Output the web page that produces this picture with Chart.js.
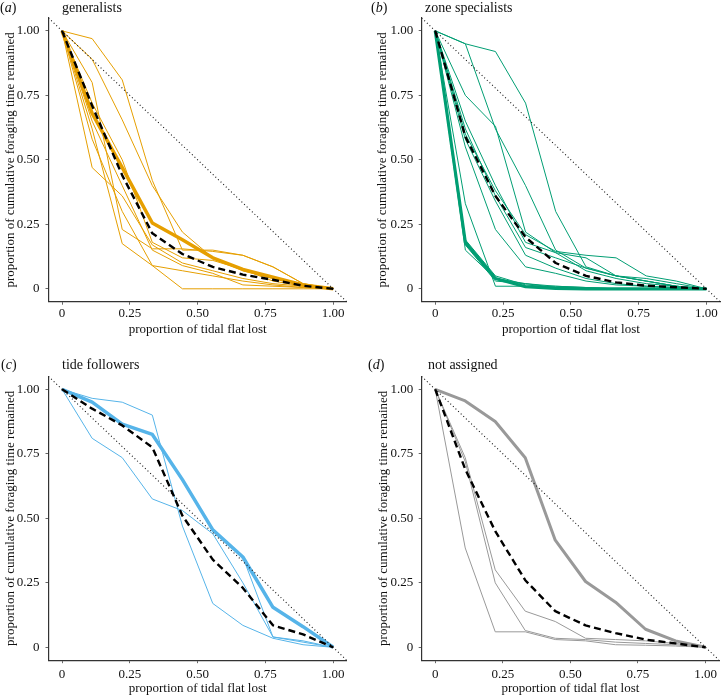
<!DOCTYPE html>
<html>
<head>
<meta charset="utf-8">
<script src="https://cdn.jsdelivr.net/npm/chart.js@4.4.1/dist/chart.umd.min.js"></script>
<style>
body { margin: 0; background: #fff; width: 721px; height: 698px; position: relative; overflow: hidden; font-family: "Liberation Serif", serif; }
canvas { position: absolute; }
.rotulo { position: absolute; font-size: 14px; line-height: 16px; color: #111; white-space: nowrap; }
</style>
</head>
<body>
<canvas id="grafico_a" width="360" height="345" style="left:0;top:0"></canvas>
<canvas id="grafico_b" width="361" height="345" style="left:360px;top:0"></canvas>
<canvas id="grafico_c" width="360" height="353" style="left:0;top:345px"></canvas>
<canvas id="grafico_d" width="361" height="353" style="left:360px;top:345px"></canvas>

<div class="rotulo" style="left:0;top:0">(<i>a</i>)</div>
<div class="rotulo" style="left:62px;top:0">generalists</div>
<div class="rotulo" style="left:371px;top:0">(<i>b</i>)</div>
<div class="rotulo" style="left:425px;top:0">zone specialists</div>
<div class="rotulo" style="left:1px;top:357px">(<i>c</i>)</div>
<div class="rotulo" style="left:62px;top:357px">tide followers</div>
<div class="rotulo" style="left:368px;top:357px">(<i>d</i>)</div>
<div class="rotulo" style="left:428px;top:357px">not assigned</div>

<script>
// proporção de planície perdida (eixo x)
const xs = [0, 0.111, 0.222, 0.333, 0.444, 0.556, 0.667, 0.778, 0.889, 1];
const tickValues = [0, 0.25, 0.5, 0.75, 1];
const tickLabels = ['0', '0.25', '0.50', '0.75', '1.00'];
const diagX = [-0.05, 1.05];
const diagY = [1.05, -0.05];

// (a) generalists
const generalistsMean = [1, 0.71, 0.44, 0.215, 0.135, 0.085, 0.055, 0.035, 0.012, 0];
const generalistsThick = [1, 0.68, 0.47, 0.255, 0.19, 0.12, 0.075, 0.045, 0.015, 0];
const generalistsThin = [
    [1, 0.97, 0.81, 0.42, 0.15, 0.15, 0.13, 0.085, 0.02, 0],
    [1, 0.89, 0.655, 0.40, 0.22, 0.12, 0.07, 0.04, 0.015, 0],
    [1, 0.80, 0.23, 0.155, 0.155, 0.145, 0.13, 0.085, 0.02, 0],
    [1, 0.47, 0.36, 0.17, 0.10, 0.07, 0.04, 0.02, 0.01, 0],
    [1, 0.62, 0.175, 0.09, 0.07, 0.05, 0.03, 0.015, 0.005, 0],
    [1, 0.58, 0.30, 0.09, 0.0, 0.0, 0.0, 0.0, 0.0, 0],
    [1, 0.65, 0.40, 0.15, 0.09, 0.06, 0.015, 0.01, 0.005, 0],
    [1, 0.72, 0.50, 0.18, 0.12, 0.11, 0.075, 0.03, 0.01, 0]
];

// (b) zone specialists
const zoneMean = [1, 0.59, 0.36, 0.20, 0.10, 0.05, 0.025, 0.012, 0.006, 0];
const zoneThick = [1, 0.18, 0.04, 0.008, 0.002, 0, 0, 0, 0, 0];
const zoneThin = [
    [1, 0.95, 0.92, 0.72, 0.30, 0.085, 0.05, 0.04, 0.02, 0],
    [1, 0.95, 0.62, 0.40, 0.15, 0.08, 0.05, 0.03, 0.01, 0],
    [1, 0.75, 0.63, 0.22, 0.14, 0.12, 0.05, 0.03, 0.01, 0],
    [1, 0.65, 0.40, 0.18, 0.14, 0.07, 0.04, 0.02, 0.01, 0],
    [1, 0.62, 0.36, 0.16, 0.12, 0.08, 0.05, 0.03, 0.01, 0],
    [1, 0.58, 0.34, 0.13, 0.08, 0.04, 0.02, 0.01, 0.005, 0],
    [1, 0.55, 0.23, 0.085, 0.06, 0.03, 0.015, 0.01, 0.005, 0],
    [1, 0.60, 0.38, 0.21, 0.145, 0.13, 0.12, 0.05, 0.03, 0],
    [1, 0.33, 0.01, 0.01, 0.01, 0.005, 0, 0, 0, 0],
    [1, 0.15, 0.04, 0.02, 0.01, 0.005, 0, 0, 0, 0],
    [1, 0.17, 0.03, 0.02, 0.005, 0, 0, 0, 0, 0],
    [1, 0.19, 0.05, 0.015, 0.005, 0, 0, 0, 0, 0]
];

// (c) tide followers
const tideMean = [1, 0.925, 0.86, 0.775, 0.51, 0.34, 0.23, 0.085, 0.05, 0];
const tideThick = [1, 0.95, 0.865, 0.825, 0.65, 0.455, 0.35, 0.155, 0.08, 0];
const tideThin = [
    [1, 0.965, 0.95, 0.90, 0.47, 0.17, 0.085, 0.035, 0.01, 0],
    [1, 0.81, 0.735, 0.575, 0.53, 0.44, 0.25, 0.04, 0.025, 0],
    [1, 0.95, 0.865, 0.825, 0.65, 0.455, 0.35, 0.04, 0.02, 0]
];

// (d) not assigned
const naMean = [1, 0.69, 0.45, 0.26, 0.14, 0.085, 0.055, 0.03, 0.015, 0];
const naThick = [1, 0.955, 0.875, 0.735, 0.415, 0.255, 0.175, 0.07, 0.025, 0];
const naThin = [
    [1, 0.735, 0.30, 0.14, 0.10, 0.035, 0.03, 0.025, 0.015, 0],
    [1, 0.72, 0.25, 0.065, 0.035, 0.03, 0.02, 0.015, 0.01, 0],
    [1, 0.385, 0.06, 0.06, 0.03, 0.025, 0.01, 0.008, 0.005, 0]
];

const fonte = { family: 'Liberation Serif', size: 13 };

function serie(valores) {
    return valores.map((v, i) => ({ x: xs[i], y: v }));
}

function criarPainel(id, cor, media, grossa, finas, area) {
    const datasets = [];
    datasets.push({ data: serie(media), borderColor: '#000', borderWidth: 2.4, borderDash: [7, 4] });
    datasets.push({ data: diagX.map((x, i) => ({ x: x, y: diagY[i] })), borderColor: '#111', borderWidth: 1.1, borderDash: [1, 2.6] });
    datasets.push({ data: serie(grossa), borderColor: cor, borderWidth: area.grossa });
    finas.forEach(f => datasets.push({ data: serie(f), borderColor: cor, borderWidth: 1 }));

    new Chart(document.getElementById(id), {
        type: 'line',
        data: { datasets: datasets },
        options: {
            responsive: false,
            animation: false,
            elements: {
                point: { radius: 0 },
                line: { tension: 0, borderJoinStyle: 'round' }
            },
            plugins: { legend: { display: false }, tooltip: { enabled: false } },
            layout: {
                padding: { left: 0, top: area.top, right: area.w - area.right, bottom: area.h - area.bottom - area.xh }
            },
            scales: {
                x: {
                    type: 'linear', min: -0.05, max: 1.05,
                    afterBuildTicks: s => { s.ticks = tickValues.map(v => ({ value: v })); },
                    afterFit: s => { s.height = area.xh; },
                    ticks: { callback: v => tickLabels[tickValues.indexOf(v)], font: fonte, color: '#111', padding: area.xpad, maxRotation: 0, autoSkip: false },
                    grid: { drawOnChartArea: false, drawTicks: true, tickLength: 3, color: '#666' },
                    border: { display: true, color: '#333', width: 1.2 },
                    title: { display: true, text: 'proportion of tidal flat lost', font: fonte, color: '#111',
                        padding: { top: 0, bottom: area.bottom + area.xh - 7.8 - area.xtitle } }
                },
                y: {
                    type: 'linear', min: -0.05, max: 1.05,
                    afterBuildTicks: s => { s.ticks = tickValues.map(v => ({ value: v })); },
                    afterFit: s => { s.width = area.left; },
                    ticks: { callback: v => tickLabels[tickValues.indexOf(v)], font: fonte, color: '#111', padding: area.ypad, autoSkip: false },
                    grid: { drawOnChartArea: false, drawTicks: true, tickLength: 3, color: '#666' },
                    border: { display: true, color: '#333', width: 1.2 },
                    title: { display: true, text: 'proportion of cumulative foraging time remained', font: fonte, color: '#111',
                        padding: { top: area.ytitle - 7.8, bottom: 0 } }
                }
            }
        }
    });
}

criarPainel('grafico_a', '#E69F00', generalistsMean, generalistsThick, generalistsThin,
    { w: 360, h: 345, left: 48.5, right: 346.7, top: 18, bottom: 301.7, xh: 40, xpad: 1, ypad: 6, xtitle: 329.5, ytitle: 10.8, grossa: 3.5 });
criarPainel('grafico_b', '#009E73', zoneMean, zoneThick, zoneThin,
    { w: 361, h: 345, left: 61.7, right: 360, top: 18, bottom: 301.7, xh: 40, xpad: 1, ypad: 5.4, xtitle: 329.5, ytitle: 22.5, grossa: 3.2 });
criarPainel('grafico_c', '#56B4E9', tideMean, tideThick, tideThin,
    { w: 360, h: 353, left: 48.5, right: 346.7, top: 31.4, bottom: 315.2, xh: 37.8, xpad: 4, ypad: 6, xtitle: 344, ytitle: 10.8, grossa: 3.5 });
criarPainel('grafico_d', '#999999', naMean, naThick, naThin,
    { w: 361, h: 353, left: 61.7, right: 360, top: 31.4, bottom: 315.2, xh: 37.8, xpad: 4, ypad: 5.4, xtitle: 344, ytitle: 24, grossa: 3 });
</script>
</body>
</html>
